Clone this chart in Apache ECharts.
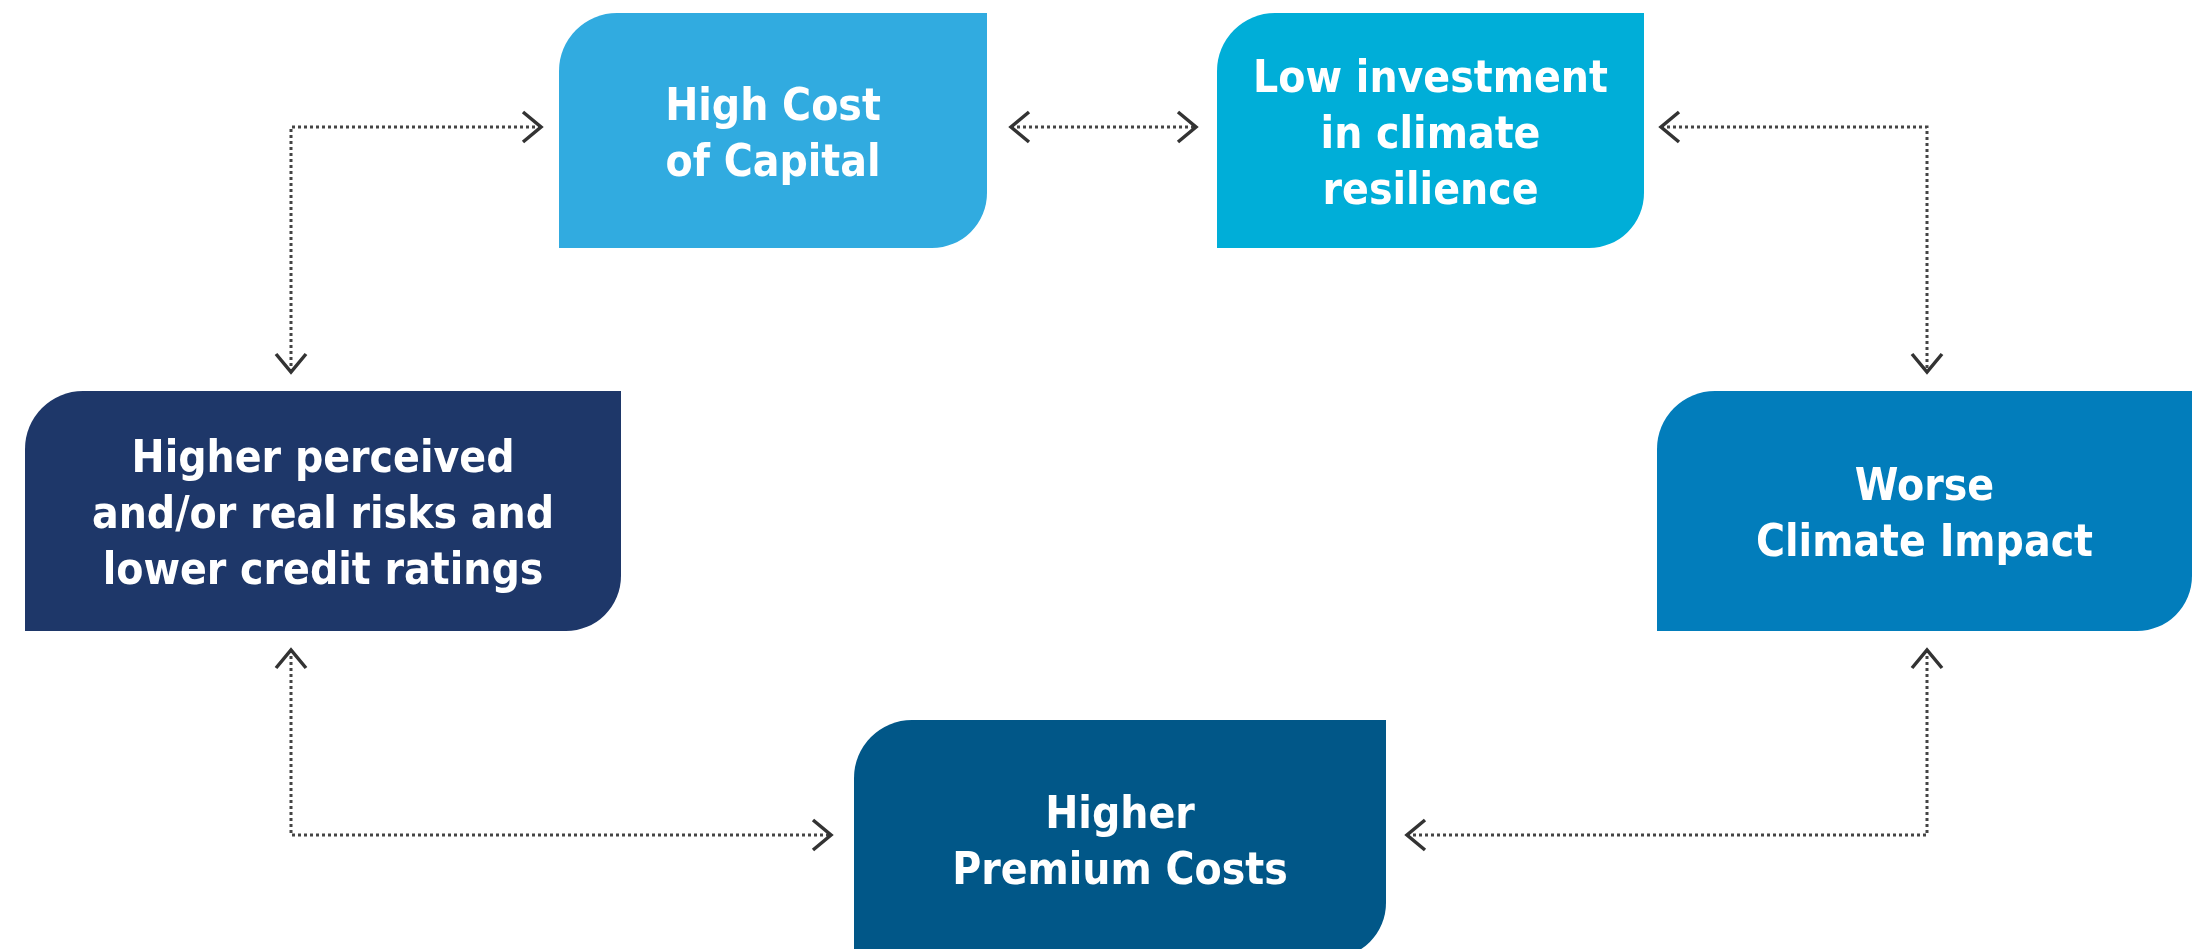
<!DOCTYPE html>
<html>
<head>
    <meta charset="utf-8">
    <title>ECharts</title>
    <script src="https://cdn.jsdelivr.net/npm/echarts@6/dist/echarts.min.js"></script>
    <style>
        html, body { margin: 0; padding: 0; background: #fff; }
    </style>
</head>
<body>
    <div id="main" style="width:2202px;height:949px;"></div>
    <script type="text/javascript">
        // box texts
        var labels = [
            'High Cost\nof Capital',
            'Low investment\nin climate\nresilience',
            'Higher perceived\nand/or real risks and\nlower credit ratings',
            'Worse\nClimate Impact',
            'Higher\nPremium Costs'
        ];

        // box extents, in the hidden axes' units
        var boxLeft   = [559, 1217, 25, 1657, 854];
        var boxRight  = [987, 1644, 621, 2192, 1386];
        var boxTop    = [13, 13, 391, 391, 720];
        var boxBottom = [248, 248, 631, 631, 958];

        var boxColors = ['#31abe0', '#00aed8', '#1e3769', '#027dbb', '#015788'];

        // dotted connectors, arrow heads on both ends
        var links = [
            [[291, 372], [291, 127], [541, 127]],
            [[1011, 127], [1196, 127]],
            [[1661, 127], [1927, 127], [1927, 372]],
            [[291, 650], [291, 835], [831, 835]],
            [[1927, 650], [1927, 835], [1407, 835]]
        ];

        var font = 'bold 44px "DejaVu Sans Condensed", "Liberation Sans Narrow", Roboto, sans-serif';

        var myChart = echarts.init(document.getElementById('main'));

        function renderBox(params, api) {
            var i = params.dataIndex;
            var p0 = api.coord([boxLeft[i], boxTop[i]]);
            var p1 = api.coord([boxRight[i], boxBottom[i]]);
            var w = p1[0] - p0[0], h = p1[1] - p0[1];
            return {
                type: 'group',
                children: [{
                    type: 'rect',
                    shape: { x: p0[0], y: p0[1], width: w, height: h, r: [58, 0, 55, 0] },
                    style: { fill: boxColors[i] }
                }, {
                    type: 'text',
                    style: {
                        text: labels[i],
                        x: p0[0] + w / 2,
                        y: p0[1] + h / 2 + 6,
                        align: 'center',
                        verticalAlign: 'middle',
                        fill: '#fff',
                        font: font,
                        lineHeight: 56
                    }
                }]
            };
        }

        function chevron(tip, from) {
            var dx = tip[0] - from[0], dy = tip[1] - from[1];
            var len = Math.sqrt(dx * dx + dy * dy);
            var ux = dx / len, uy = dy / len;
            var depth = 18, half = 15;
            var bx = tip[0] - ux * depth, by = tip[1] - uy * depth;
            return {
                type: 'polyline',
                shape: { points: [[bx - uy * half, by + ux * half], tip, [bx + uy * half, by - ux * half]] },
                style: { stroke: '#333', lineWidth: 3.5, fill: null }
            };
        }

        function renderLink(params, api) {
            var pts = links[params.dataIndex].map(function (p) { return api.coord(p); });
            var n = pts.length;
            return {
                type: 'group',
                children: [{
                    type: 'polyline',
                    shape: { points: pts },
                    style: { stroke: '#444', lineWidth: 3, lineDash: [3, 3], fill: null }
                },
                chevron(pts[0], pts[1]),
                chevron(pts[n - 1], pts[n - 2])]
            };
        }

        var option = {
            animation: false,
            grid: { left: 0, right: 0, top: 0, bottom: 0 },
            xAxis: { type: 'value', min: 0, max: 2202, show: false },
            yAxis: { type: 'value', min: 0, max: 949, inverse: true, show: false },
            series: [{
                type: 'custom',
                renderItem: renderLink,
                data: links.map(function (l, i) { return [i]; }),
                silent: true
            }, {
                type: 'custom',
                renderItem: renderBox,
                data: labels.map(function (l, i) { return [i]; }),
                silent: true
            }]
        };

        myChart.setOption(option);
    </script>
</body>
</html>
